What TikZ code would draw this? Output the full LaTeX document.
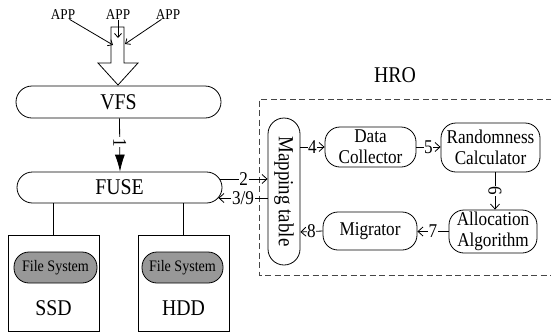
\documentclass[tikz,border=0pt]{standalone}
\usepackage{fontspec}
\setmainfont{Liberation Serif}[FakeStretch=0.88]
\usetikzlibrary{arrows.meta}
\newcommand\tzbig{\fontsize{22.5}{24}\selectfont}
\newcommand\tzmid{\fontsize{19.5}{21}\selectfont}
\newcommand\tzapp{\fontsize{15}{16}\selectfont}
\newcommand\tzfs{\fontsize{16}{18}\selectfont}
\newcommand\tzmap{\fontsize{21.5}{23}\selectfont}
\definecolor{fsgray}{RGB}{152,152,152}
\definecolor{dashgray}{RGB}{70,70,70}
\begin{document}
\begin{tikzpicture}[x=1pt,y=-1pt, line width=0.8pt,
  pill/.style={draw, rounded corners=#1, inner sep=0pt, align=center},
  lbl/.style={fill=white, inner sep=0.6pt, font=\tzmid},
  arr/.style={-{Straight Barb[length=5pt,width=9pt]}},
  apparr/.style={-{Straight Barb[length=4pt,width=7pt]}},
  disk/.style={draw, minimum width=91pt, minimum height=96pt, inner sep=0pt},
  fsbox/.style={pill=15pt, fill=fsgray, minimum height=31pt, font=\tzfs},
]
\useasboundingbox (0,0) rectangle (551,335);

% applications
\node[font=\tzapp, inner sep=0pt] (app1) at (63,15) {APP};
\node[font=\tzapp, inner sep=0pt] (app2) at (118,15) {APP};
\node[font=\tzapp, inner sep=0pt] (app3) at (168,15) {APP};
\coordinate (in1) at (113,45);
\coordinate (in2) at (118,38);
\coordinate (in3) at (125,44);

% big hollow arrow
\draw (111,27) -- (124,27) -- (124,63) -- (138,63) -- (118,85) -- (98,63) -- (111,63) -- cycle;

\draw[apparr] ([xshift=-6pt,yshift=1pt]app1.south east) -- (in1);
\draw[apparr] (app2.south) -- (in2);
\draw[apparr] ([xshift=6pt,yshift=1pt]app3.south west) -- (in3);

% VFS and FUSE
\node[pill=16pt, minimum width=205pt, minimum height=32pt, font=\tzbig] (vfs) at (118.5,102) {VFS};
\node[pill=15.5pt, minimum width=205pt, minimum height=31pt, font=\tzbig] (fuse) at (119.5,187.5) {FUSE};
\draw[-{Latex[length=17pt,width=10pt]}] ([xshift=1pt]vfs.south) -- node[lbl, rotate=-90, pos=0.45] {1} ([xshift=0.5pt]fuse.north);

% disks
\node[disk] (ssd) at (53.5,283) {};
\node[fsbox, minimum width=83pt] (fs1) at (55.5,267.5) {File System};
\node[font=\tzbig, inner sep=0pt] (ssdl) at (53.5,308) {SSD};
\node[disk] (hdd) at (183.5,283) {};
\node[fsbox, minimum width=81pt] (fs2) at (182.5,267.5) {File System};
\node[font=\tzbig, inner sep=0pt] (hddl) at (183.5,308) {HDD};
\draw (ssd.north |- fuse.south) -- (ssd.north);
\draw (hdd.north |- fuse.south) -- (hdd.north);

% HRO
\node[font=\tzbig, inner sep=0pt] (hro) at (395,75) {HRO};
\draw[dashgray, dash pattern=on 6pt off 3.5pt] (552,99) -- (259,99) -- (259,275) -- (552,275);

\node[pill=16pt, rotate=-90, minimum width=147pt, minimum height=32pt, font=\tzmap] (map) at (284,191.5) {Mapping table};
\node[pill=15pt, minimum width=91pt, minimum height=40pt, font=\tzmid] (dc) at (370.5,147) {Data\\Collector};
\node[pill=15pt, minimum width=99pt, minimum height=49pt, font=\tzmid] (rc) at (490.5,147.5) {Randomness\\Calculator};
\node[pill=15pt, minimum width=88pt, minimum height=43pt, font=\tzmid] (aa) at (493,231.5) {Allocation\\Algorithm};
\node[pill=15pt, minimum width=94pt, minimum height=38pt, font=\tzmid] (mig) at (370,231) {Migrator};

\draw[arr] ([xshift=-2.5pt,yshift=8.5pt]fuse.east) -- node[lbl] {2} ([yshift=12.5pt]map.south);
\draw[arr] ([yshift=-6.5pt]map.south) -- node[lbl] {3/9} ([xshift=-4pt,yshift=-10.5pt]fuse.east);
\draw[arr] ([yshift=44.5pt]map.north) -- node[lbl] {4} (dc.west);
\draw[arr] (dc.east) -- node[lbl] {5} (dc.east -| rc.west);
\draw[arr] ([xshift=2pt]rc.south -| aa.north) -- node[lbl, rotate=-90] {6} ([xshift=2pt]aa.north);
\draw[arr] (aa.west) -- node[lbl] {7} (aa.west -| mig.east);
\draw[arr] (mig.west) -- node[lbl] {8} ([yshift=-40.5pt]map.north);
\end{tikzpicture}
\end{document}
